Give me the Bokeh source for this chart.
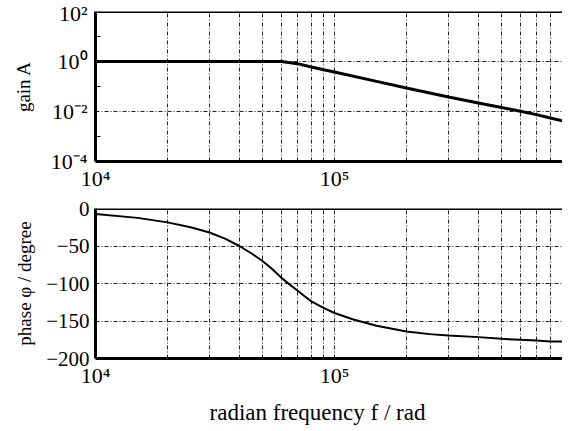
from bokeh.plotting import figure
from bokeh.layouts import column
from bokeh.models import FixedTicker, CustomJSTickFormatter, Span, Range1d
from bokeh.embed import file_html
from bokeh.resources import INLINE

# ---- data ----
freq_gain = [1e4, 2e4, 4e4, 6e4, 7e4, 8e4, 9e4, 1e5, 1.5e5, 2e5, 3e5, 4e5,
             5e5, 6e5, 7e5, 8e5, 9e5, 9.7e5]
gain = [1, 1, 1, 1, 0.82, 0.6, 0.47, 0.38, 0.16, 0.087, 0.038, 0.022,
        0.0145, 0.0102, 0.0075, 0.0055, 0.0042, 0.0034]

freq_phase = [1e4, 1.5e4, 2e4, 2.5e4, 3e4, 3.5e4, 4e4, 4.5e4, 5e4, 5.5e4,
              6e4, 6.5e4, 7e4, 7.5e4, 8e4, 9e4, 1e5, 1.2e5, 1.5e5, 2e5,
              2.5e5, 3e5, 4e5, 5e5, 6e5, 7e5, 8e5, 9e5, 9.3e5]
phase = [-7.4, -12.5, -18.5, -25, -32, -40.5, -50, -60, -70, -81,
         -92.5, -101.5, -109.4, -117, -123.8, -132.6, -139.3, -148, -156.4, -164,
         -167.5, -169.4, -171.5, -173.8, -175, -176, -177.2, -177.4, -177.5]

x_major = [1e4, 1e5]
x_minor = [2e4, 3e4, 4e4, 5e4, 6e4, 7e4, 8e4, 9e4,
           2e5, 3e5, 4e5, 5e5, 6e5, 7e5, 8e5, 9e5]
gain_ticks = [1e-4, 1e-2, 1e0, 1e2]
gain_minor = [1e-3, 1e-1, 1e1]
phase_ticks = [-200, -150, -100, -50, 0]

FONT = "'Liberation Serif', 'Times New Roman', serif"
GRID = "#222222"
DASH = "4 2 1 2"

log_fmt = CustomJSTickFormatter(code="""
const e = Math.round(Math.log10(tick));
const m = {"-":"\u207b","0":"\u2070","1":"\u00b9","2":"\u00b2","3":"\u00b3","4":"\u2074",
           "5":"\u2075","6":"\u2076","7":"\u2077","8":"\u2078","9":"\u2079"};
return "10" + String(e).split("").map(c => m[c]).join("");
""")
minus_fmt = CustomJSTickFormatter(code="""
return tick < 0 ? "\u2212" + Math.abs(tick) : String(tick);
""")


def style(p, ylabel, ystandoff, lstandoff, ysize):
    p.outline_line_color = None
    p.background_fill_color = "white"
    p.border_fill_color = "white"
    for ax in (p.xaxis[0], p.yaxis[0]):
        ax.axis_line_width = 3
        ax.axis_line_color = "black"
        ax.major_tick_line_color = None
        ax.major_tick_out = 0
        ax.major_tick_in = 0
        ax.major_label_text_font = FONT
        ax.major_label_text_color = "black"
        ax.axis_label_text_font = FONT
        ax.axis_label_text_font_style = "normal"
        ax.axis_label_text_color = "black"
    p.xaxis[0].major_label_text_font_size = "22px"
    p.yaxis[0].major_label_text_font_size = ysize
    p.yaxis[0].axis_label_text_font_size = "19px"
    p.xaxis[0].minor_tick_line_color = None
    p.xaxis[0].minor_tick_out = 0
    p.xaxis[0].major_label_standoff = 4
    p.yaxis[0].major_label_standoff = lstandoff
    p.yaxis[0].axis_label = ylabel
    p.yaxis[0].axis_label_standoff = ystandoff
    p.xaxis[0].ticker = FixedTicker(ticks=x_major, minor_ticks=x_minor)
    p.xaxis[0].formatter = log_fmt
    p.xgrid.grid_line_color = GRID
    p.xgrid.grid_line_dash = DASH
    p.xgrid.minor_grid_line_color = GRID
    p.xgrid.minor_grid_line_dash = DASH
    p.ygrid.grid_line_color = GRID
    p.ygrid.grid_line_dash = DASH
    p.add_layout(Span(location=p.y_range.end, dimension="width",
                      line_color="black", line_width=3))


# ---- gain plot ----
p1 = figure(x_axis_type="log", y_axis_type="log",
            x_range=Range1d(1e4, 9.44e5), y_range=Range1d(1e-4, 1e2),
            frame_width=472, frame_height=150,
            min_border_left=90, min_border_right=0, min_border_top=11,
            min_border_bottom=29,
            output_backend="svg", toolbar_location=None)
style(p1, "gain A", 14, 8, "22px")
p1.yaxis[0].ticker = FixedTicker(ticks=gain_ticks, minor_ticks=gain_minor)
p1.yaxis[0].formatter = log_fmt
p1.yaxis[0].minor_tick_in = 5
p1.yaxis[0].minor_tick_out = 0
p1.yaxis[0].minor_tick_line_color = "black"
p1.line(freq_gain, gain, line_color="black", line_width=3)

# ---- phase plot ----
p2 = figure(x_axis_type="log",
            x_range=Range1d(1e4, 9.0e5), y_range=Range1d(-200, 0),
            frame_width=467, frame_height=150,
            min_border_left=95, min_border_right=0, min_border_top=15,
            min_border_bottom=40,
            output_backend="svg", toolbar_location=None)
style(p2, "phase \u03c6 / degree", 8, 6, "21px")
p2.yaxis[0].ticker = FixedTicker(ticks=phase_ticks)
p2.yaxis[0].formatter = minus_fmt
p2.yaxis[0].minor_tick_line_color = None
p2.yaxis[0].minor_tick_out = 0
p2.xaxis[0].axis_label = "radian frequency f / rad" + "\u00a0" * 4
p2.xaxis[0].axis_label_text_font_size = "23px"
p2.xaxis[0].axis_label_standoff = 9
p2.line(freq_phase, phase, line_color="black", line_width=2)

layout = column(p1, p2, spacing=0)
open("out.html", "w").write(file_html(layout, INLINE))
